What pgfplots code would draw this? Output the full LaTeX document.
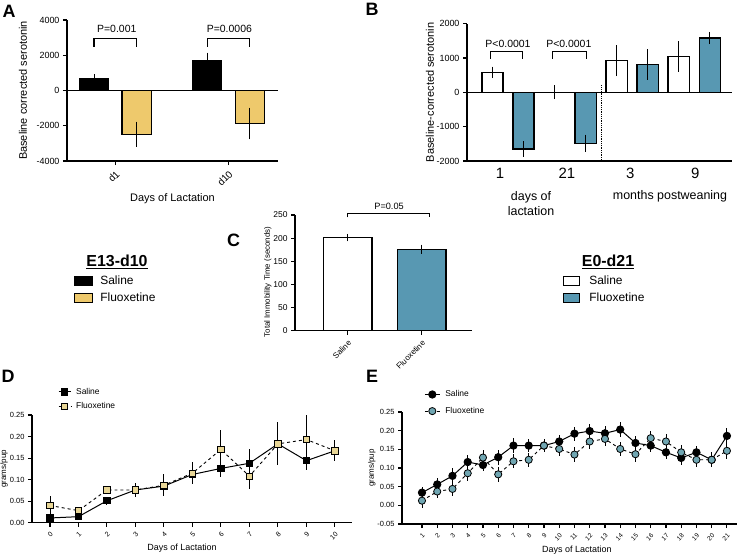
\documentclass[border=0pt]{standalone}
\usepackage{pgfplots}
\pgfplotsset{compat=1.18}
\usepackage{fontspec}
\setmainfont{Liberation Sans}
\definecolor{ybarc}{RGB}{238,201,108}
\definecolor{bbarc}{RGB}{88,152,178}
\definecolor{dfl}{RGB}{232,214,150}
\definecolor{efl}{RGB}{112,166,178}
\newcommand{\fs}[1]{\fontsize{#1}{#1}\selectfont}
\pgfplotsset{
  gp/.style={
    scale only axis, clip=false,
    axis x line*=bottom, axis y line*=left,
    axis line style={line width=1.3bp, black},
    tick style={line width=1.1bp, black},
    tick align=outside, major tick length=4bp,
    /pgf/number format/assume math mode=true,
    /pgf/number format/1000 sep={},
    legend cell align=left,
  },
  eb/.style={error bars/.cd, y dir=both, y explicit, error mark=none,
    error bar style={line width=0.9bp, black, solid}},
}
\begin{document}
\begin{tikzpicture}
\useasboundingbox (0,0) rectangle (739bp,-557bp);
%%%%%%%%%%%%%%%% Panel A
\begin{axis}[gp, at={(67bp,-161bp)}, anchor=south west, width=211bp, height=141bp,
  xmin=0.575, xmax=2.44, ymin=-4000, ymax=4000,
  ytick={-4000,-2000,0,2000,4000},
  xtick={1,2}, xticklabels={d1,d10},
  xticklabel style={rotate=45, anchor=north east, font=\fs{10}},
  yticklabel style={font=\fs{9}},
  ylabel={Baseline corrected serotonin},
  ylabel style={font=\fs{11}, at={(axis description cs:-0.2085,0.5)}, anchor=center},
  xlabel={Days of Lactation},
  xlabel style={font=\fs{11}, at={(axis description cs:0.5,-0.27)}, anchor=center},
  bar width=0.257,
  legend style={at={(axis description cs:0.033,-0.80)}, anchor=north west, draw=none, fill=none,
    font=\fs{12}, row sep=3bp, inner sep=0pt,
    /tikz/every odd column/.append style={column sep=5bp}},
]
\addplot[ybar, bar shift=0, area legend, fill=black, draw=black, line width=1.2bp,
  legend image code/.code={\draw[fill=black, draw=black, line width=1.2bp] (0bp,-4.5bp) rectangle (18bp,4.5bp);},
  eb] coordinates {(0.814,650) +- (0,265) (1.814,1700) +- (0,450)};
\addlegendentry{Saline}
\addplot[ybar, bar shift=0, area legend, fill=ybarc, draw=black, line width=1.2bp,
  legend image code/.code={\draw[fill=ybarc, draw=black, line width=1.2bp] (0bp,-4.5bp) rectangle (18bp,4.5bp);},
  eb] coordinates {(1.19,-2480) +- (0,720) (2.19,-1870) +- (0,900)};
\addlegendentry{Fluoxetine}
\draw[line width=1.3bp] (axis cs:0.575,0) -- (axis cs:2.44,0);
\draw[line width=1.1bp] (axis cs:0.814,2476) -- (axis cs:0.814,2952) -- (axis cs:1.19,2952) -- (axis cs:1.19,2476);
\node[font=\fs{10.5}] at (axis cs:1.015,3467) {P=0.001};
\draw[line width=1.1bp] (axis cs:1.814,2476) -- (axis cs:1.814,2952) -- (axis cs:2.19,2952) -- (axis cs:2.19,2476);
\node[font=\fs{10.5}] at (axis cs:2.01,3467) {P=0.0006};
\end{axis}
%%%%%%%%%%%%%%%% Panel B
\begin{axis}[gp, at={(467bp,-161bp)}, anchor=south west, width=265bp, height=137.4bp,
  xmin=0.339, xmax=4.61, ymin=-2000, ymax=2000,
  ytick={-2000,-1000,0,1000,2000},
  xtick={0.87,1.95,2.97,4.02}, xticklabels={1,21,3,9}, xtick style={draw=none},
  xticklabel style={font=\fs{15}},
  yticklabel style={font=\fs{9}},
  ylabel={Baseline-corrected serotonin},
  ylabel style={font=\fs{11}, at={(axis description cs:-0.14,0.5)}, anchor=center},
  bar width=0.34,
  legend style={at={(axis description cs:0.362,-0.82)}, anchor=north west, draw=none, fill=none,
    font=\fs{12}, row sep=3bp, inner sep=0pt,
    /tikz/every odd column/.append style={column sep=7bp}},
]
\addplot[ybar, bar shift=0, area legend, fill=white, draw=black, line width=1.2bp,
  legend image code/.code={\draw[fill=white, draw=black, line width=1.2bp] (0bp,-4.5bp) rectangle (16bp,4.5bp);},
  eb] coordinates {(0.75,580) +- (0,170) (1.75,0) +- (0,200) (2.75,920) +- (0,450) (3.75,1040) +- (0,440)};
\addlegendentry{Saline}
\addplot[ybar, bar shift=0, area legend, fill=bbarc, draw=black, line width=1.2bp,
  legend image code/.code={\draw[fill=bbarc, draw=black, line width=1.2bp] (0bp,-4.5bp) rectangle (16bp,4.5bp);},
  eb] coordinates {(1.25,-1650) +- (0,230) (2.25,-1485) +- (0,250) (3.25,815) +- (0,445) (4.25,1580) +- (0,180)};
\addlegendentry{Fluoxetine}
\draw[line width=1.3bp] (axis cs:0.339,0) -- (axis cs:4.61,0);
\draw[densely dotted, line width=0.8bp] (axis cs:2.5,200) -- (axis cs:2.5,-2000);
\draw[line width=1.1bp] (axis cs:0.72,980) -- (axis cs:0.72,1194) -- (axis cs:1.24,1194) -- (axis cs:1.24,980);
\node[font=\fs{10.5}] at (axis cs:1.0,1418) {P<0.0001};
\draw[line width=1.1bp] (axis cs:1.72,980) -- (axis cs:1.72,1194) -- (axis cs:2.26,1194) -- (axis cs:2.26,980);
\node[font=\fs{10.5}] at (axis cs:1.98,1418) {P<0.0001};
\end{axis}
%%%%%%%%%%%%%%%% Panel C
\begin{axis}[gp, at={(295bp,-330.7bp)}, anchor=south west, width=177bp, height=115.7bp,
  xmin=0.29, xmax=2.68, ymin=0, ymax=250,
  ytick={0,50,100,150,200,250},
  xtick={1,2}, xticklabels={Saline,Fluoxetine},
  xticklabel style={rotate=45, anchor=north east, font=\fs{8}},
  yticklabel style={font=\fs{8.5}},
  ylabel={Total Immobility Time (seconds)},
  ylabel style={font=\fs{7.9}, at={(axis description cs:-0.153,0.42)}, anchor=center},
  bar width=0.66,
]
\addplot[ybar, fill=white, draw=black, line width=1.2bp, bar shift=0, eb]
  coordinates {(1,201) +- (0,8)};
\addplot[ybar, fill=bbarc, draw=black, line width=1.2bp, bar shift=0, eb]
  coordinates {(2,176) +- (0,10)};
\draw[line width=1.1bp] (axis cs:1,245) -- (axis cs:1,253) -- (axis cs:2.1,253) -- (axis cs:2.1,245);
\node[font=\fs{9.2}] at (axis cs:1.56,269) {P=0.05};
\end{axis}
%%%%%%%%%%%%%%%% Panel D
\begin{axis}[gp, at={(32bp,-522.7bp)}, anchor=south west, width=320bp, height=107.7bp,
  xmin=-0.63, xmax=10.6, ymin=0, ymax=0.25,
  ytick={0,0.05,0.10,0.15,0.20,0.25},
  yticklabel style={font=\fs{7.5}, /pgf/number format/.cd, fixed, fixed zerofill, precision=2},
  xtick={0,1,...,10},
  xticklabel style={rotate=45, anchor=north east, font=\fs{7}},
  ylabel={grams/pup},
  ylabel style={font=\fs{8}, at={(axis description cs:-0.0875,0.5)}, anchor=center},
  xlabel={Days of Lactation},
  xlabel style={font=\fs{9}, at={(axis description cs:0.469,-0.235)}, anchor=center},
  legend style={at={(axis description cs:0.081,1.27)}, anchor=north west, draw=none, fill=none,
    font=\fs{8.5}, row sep=3bp, inner sep=0pt,
    /tikz/every odd column/.append style={column sep=3bp}},
  legend image code/.code={\draw[mark repeat=2,mark phase=2,#1] plot coordinates {(0bp,0bp) (6bp,0bp) (12bp,0bp)};},
]
\addplot[black, line width=1bp, mark=square*, mark size=3.2bp, mark options={fill=black, draw=black, solid}, eb]
  coordinates {(0,0.011) +- (0,0.005) (1,0.014) +- (0,0.005) (2,0.051) +- (0,0.009) (3,0.076) +- (0,0.010)
  (4,0.085) +- (0,0.012) (5,0.112) +- (0,0.015) (6,0.126) +- (0,0.020) (7,0.138) +- (0,0.034)
  (8,0.183) +- (0,0.020) (9,0.144) +- (0,0.022) (10,0.167) +- (0,0.024)};
\addlegendentry{Saline}
\addplot[black, dashed, line width=0.9bp, mark=square*, mark size=3.2bp, mark options={fill=dfl, draw=black, solid, line width=0.8bp}, eb]
  coordinates {(0,0.040) +- (0,0.022) (1,0.028) +- (0,0.008) (2,0.076) +- (0,0.010) (3,0.076) +- (0,0.016)
  (4,0.087) +- (0,0.026) (5,0.115) +- (0,0.025) (6,0.170) +- (0,0.045) (7,0.108) +- (0,0.030)
  (8,0.183) +- (0,0.050) (9,0.193) +- (0,0.057) (10,0.167) +- (0,0.020)};
\addlegendentry{Fluoxetine}
\end{axis}
%%%%%%%%%%%%%%%% Panel E
\begin{axis}[gp, at={(402bp,-524bp)}, anchor=south west, width=335bp, height=112bp,
  xmin=-0.31, xmax=21.66, ymin=-0.05, ymax=0.25,
  ytick={-0.05,0,0.05,0.10,0.15,0.20,0.25},
  yticklabel style={font=\fs{7.5}, /pgf/number format/.cd, fixed, fixed zerofill, precision=2},
  xtick={1,2,...,21},
  xticklabel style={rotate=45, anchor=north east, font=\fs{6.5}},
  ylabel={grams/pup},
  ylabel style={font=\fs{8}, at={(axis description cs:-0.09,0.5)}, anchor=center},
  xlabel={Days of Lactation},
  xlabel style={font=\fs{9}, at={(axis description cs:0.522,-0.23)}, anchor=center},
  legend style={at={(axis description cs:0.066,1.21)}, anchor=north west, draw=none, fill=none,
    font=\fs{8.5}, row sep=5bp, inner sep=0pt,
    /tikz/every odd column/.append style={column sep=3bp}},
  legend image code/.code={\draw[mark repeat=2,mark phase=2,#1] plot coordinates {(0bp,0bp) (7.5bp,0bp) (15bp,0bp)};},
]
\addplot[black, line width=1bp, mark=*, mark size=3.6bp, mark options={fill=black, draw=black, solid}, eb]
  coordinates {(1,0.034) +- (0,0.015) (2,0.056) +- (0,0.016) (3,0.079) +- (0,0.022) (4,0.116) +- (0,0.020)
  (5,0.108) +- (0,0.016) (6,0.129) +- (0,0.020) (7,0.160) +- (0,0.021) (8,0.160) +- (0,0.018)
  (9,0.160) +- (0,0.017) (10,0.171) +- (0,0.018) (11,0.192) +- (0,0.019) (12,0.199) +- (0,0.020)
  (13,0.193) +- (0,0.020) (14,0.203) +- (0,0.021) (15,0.167) +- (0,0.018) (16,0.160) +- (0,0.018)
  (17,0.142) +- (0,0.019) (18,0.127) +- (0,0.018) (19,0.142) +- (0,0.018) (20,0.122) +- (0,0.019)
  (21,0.186) +- (0,0.020)};
\addlegendentry{Saline}
\addplot[black, dashed, line width=0.9bp, mark=*, mark size=3.6bp, mark options={fill=efl, draw=black, solid, line width=0.8bp}, eb]
  coordinates {(1,0.0125) +- (0,0.020) (2,0.037) +- (0,0.018) (3,0.044) +- (0,0.020) (4,0.086) +- (0,0.022)
  (5,0.128) +- (0,0.020) (6,0.083) +- (0,0.020) (7,0.118) +- (0,0.019) (8,0.122) +- (0,0.019)
  (9,0.160) +- (0,0.018) (10,0.151) +- (0,0.020) (11,0.136) +- (0,0.021) (12,0.171) +- (0,0.020)
  (13,0.178) +- (0,0.020) (14,0.151) +- (0,0.020) (15,0.137) +- (0,0.020) (16,0.180) +- (0,0.019)
  (17,0.171) +- (0,0.020) (18,0.142) +- (0,0.020) (19,0.122) +- (0,0.020) (20,0.122) +- (0,0.020)
  (21,0.146) +- (0,0.021)};
\addlegendentry{Fluoxetine}
\end{axis}
%%%%%%%%%%%%%%%% Free text
\node[font=\bfseries\fs{18}] at (9bp,-11.5bp) {A};
\node[font=\bfseries\fs{18}] at (372bp,-9bp) {B};
\node[font=\bfseries\fs{18}] at (233.5bp,-240bp) {C};
\node[font=\bfseries\fs{18}] at (8bp,-376bp) {D};
\node[font=\bfseries\fs{18}] at (372bp,-376bp) {E};
\node[font=\bfseries\fs{16}] at (117bp,-262bp) {\underline{E13-d10}};
\node[font=\bfseries\fs{16}] at (608bp,-262bp) {\underline{E0-d21}};
\node[font=\fontsize{12.5}{15}\selectfont, align=center] at (531bp,-203.5bp) {days of\\lactation};
\node[font=\fs{12.5}] at (670bp,-196bp) {months postweaning};
\end{tikzpicture}
\end{document}
